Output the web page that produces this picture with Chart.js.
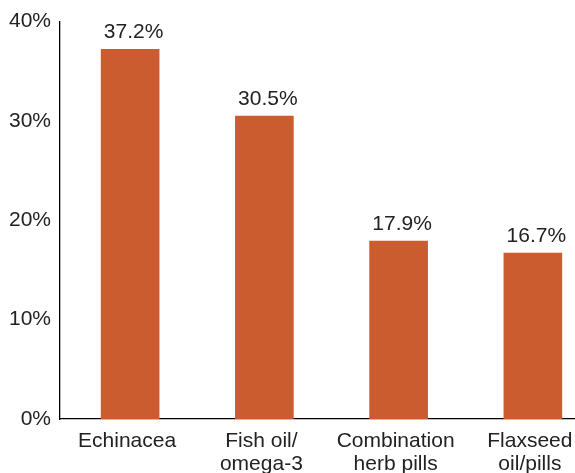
<!DOCTYPE html>
<html>
<head>
<meta charset="utf-8">
<script src="https://cdn.jsdelivr.net/npm/chart.js@4.4.1/dist/chart.umd.min.js"></script>
<style>
  html, body { margin: 0; padding: 0; background: #fff; overflow: hidden; width: 575px; height: 473px; }
  #wrap { position: absolute; left: 0; top: 0; width: 597px; height: 473px; }
</style>
</head>
<body>
<div id="wrap"><canvas id="c" width="597" height="473"></canvas></div>
<script>
const categories = [["Echinacea"], ["Fish oil/", "omega-3"], ["Combination", "herb pills"], ["Flaxseed", "oil/pills"]];
const values = [37.2, 30.5, 17.9, 16.7];
const yTicks = [0, 10, 20, 30, 40];

const FONT = "'Liberation Sans', Arial, Helvetica, sans-serif";
const TEXT = "#222222";
const BAR_SHIFT = 3;

const barShift = {
  id: 'barShift',
  beforeDatasetsDraw(chart) { chart.ctx.save(); chart.ctx.translate(BAR_SHIFT, 0); },
  afterDatasetsDraw(chart) { chart.ctx.restore(); }
};

const valueLabels = {
  id: 'valueLabels',
  afterDatasetsDraw(chart) {
    const ctx = chart.ctx;
    const meta = chart.getDatasetMeta(0);
    ctx.save();
    ctx.font = "21px " + FONT;
    ctx.fillStyle = TEXT;
    ctx.textAlign = 'center';
    ctx.textBaseline = 'alphabetic';
    meta.data.forEach((bar, i) => {
      ctx.fillText(values[i].toFixed(1) + '%', bar.x + BAR_SHIFT + 3.5, bar.y - 11);
    });
    ctx.restore();
  }
};

new Chart(document.getElementById('c'), {
  type: 'bar',
  data: {
    labels: categories,
    datasets: [{
      data: values,
      backgroundColor: '#CB5C2F',
      borderWidth: 0,
      barThickness: 58
    }]
  },
  options: {
    responsive: false,
    animation: false,
    events: [],
    layout: { padding: { top: 21, right: 0, bottom: 0, left: 0 } },
    plugins: { legend: { display: false }, tooltip: { enabled: false } },
    scales: {
      x: {
        grid: { display: false, drawTicks: false },
        border: { display: true, color: '#000', width: 1.3 },
        ticks: {
          color: TEXT,
          font: { family: FONT, size: 21, lineHeight: 1.1 },
          padding: 11,
          maxRotation: 0,
          autoSkip: false
        },
        afterFit(scale) { scale.height = 54; }
      },
      y: {
        min: 0, max: 40,
        grid: { display: false, drawTicks: false },
        border: { display: true, color: '#000', width: 1.3 },
        afterBuildTicks(scale) { scale.ticks = yTicks.map(v => ({ value: v })); },
        ticks: {
          color: TEXT,
          font: { family: FONT, size: 21 },
          padding: 9,
          callback: v => v + '%'
        },
        afterFit(scale) { scale.width = 60; }
      }
    }
  },
  plugins: [barShift, valueLabels]
});
</script>
</body>
</html>
